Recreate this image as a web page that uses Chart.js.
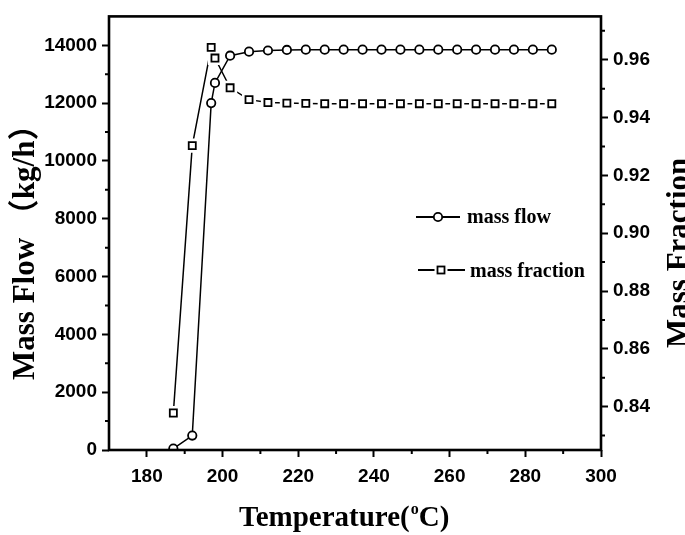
<!DOCTYPE html>
<html>
<head>
<meta charset="utf-8">
<script src="https://cdn.jsdelivr.net/npm/chart.js@4.4.0/dist/chart.umd.min.js"></script>
<style>
    html, body { margin: 0; padding: 0; background: #fff; }
    #wrap { width: 685px; height: 535px; }
</style>
</head>
<body>
<div id="wrap"><canvas id="chart" width="685" height="535"></canvas></div>
<script>
// Data
const temps = [187, 192, 197, 198, 202, 207, 212, 217, 222, 227, 232, 237, 242, 247, 252, 257, 262, 267, 272, 277, 282, 287];
const massFlow = [50, 500, 12000, 12700, 13640, 13780, 13820, 13840, 13850, 13850, 13850, 13850, 13850, 13850, 13850, 13850, 13850, 13850, 13850, 13850, 13850, 13850];
const massFraction = [0.8378, 0.9303, 0.9643, 0.9606, 0.9503, 0.9462, 0.9452, 0.9450, 0.9449, 0.9448, 0.9448, 0.9448, 0.9448, 0.9448, 0.9448, 0.9448, 0.9448, 0.9448, 0.9448, 0.9448, 0.9448, 0.9448];

// Tick labels
const xTicks = [180, 200, 220, 240, 260, 280, 300];
const flowTicks = [0, 2000, 4000, 6000, 8000, 10000, 12000, 14000];
const fracTicks = [0.84, 0.86, 0.88, 0.90, 0.92, 0.94, 0.96];
const xMinor = [190, 210, 230, 250, 270, 290];
const flowMinor = [1000, 3000, 5000, 7000, 9000, 11000, 13000];
const fracMinor = [0.83, 0.85, 0.87, 0.89, 0.91, 0.93, 0.95, 0.97];

const legendLabels = ['mass flow', 'mass fraction'];

const tickFont = { family: 'Liberation Sans', size: 19, weight: 'bold' };
const serif = '"Liberation Serif", "Noto Sans CJK SC", serif';

function pts(ys) {
    return temps.map((t, i) => ({ x: t, y: ys[i] }));
}

function tickGrid() {
    return {
        drawOnChartArea: false,
        drawTicks: true,
        tickLength: 7,
        tickWidth: 2,
        tickColor: '#000'
    };
}

// Frame, minor ticks, titles and legend
const decorPlugin = {
    id: 'decor',
    afterDraw(chart) {
        const { ctx, chartArea: a, scales } = chart;
        ctx.save();
        ctx.strokeStyle = '#000';
        ctx.fillStyle = '#000';

        ctx.lineWidth = 2.6;
        ctx.strokeRect(a.left, a.top, a.right - a.left, a.bottom - a.top);

        ctx.lineWidth = 2;
        ctx.beginPath();
        xMinor.forEach(v => {
            const px = scales.x.getPixelForValue(v);
            ctx.moveTo(px, a.bottom);
            ctx.lineTo(px, a.bottom + 4);
        });
        flowMinor.forEach(v => {
            const py = scales.y.getPixelForValue(v);
            ctx.moveTo(a.left, py);
            ctx.lineTo(a.left - 4, py);
        });
        fracMinor.forEach(v => {
            const py = scales.y1.getPixelForValue(v);
            ctx.moveTo(a.right, py);
            ctx.lineTo(a.right + 4, py);
        });
        ctx.stroke();

        // x title with superscript o
        ctx.textBaseline = 'alphabetic';
        ctx.textAlign = 'left';
        ctx.font = 'bold 29px ' + serif;
        let x = 239;
        const base = 526;
        ctx.fillText('Temperature(', x, base);
        x += ctx.measureText('Temperature(').width;
        ctx.font = 'bold 16px ' + serif;
        ctx.fillText('o', x + 1, base - 12);
        x += ctx.measureText('o').width + 1;
        ctx.font = 'bold 29px ' + serif;
        ctx.fillText('C)', x, base);

        // left title
        ctx.save();
        ctx.translate(34, 380);
        ctx.rotate(-Math.PI / 2);
        ctx.font = 'bold 31px ' + serif;
        ctx.fillText('Mass Flow （kg/h）', 0, 0);
        ctx.restore();

        // right title
        ctx.save();
        ctx.translate(688, 348);
        ctx.rotate(-Math.PI / 2);
        ctx.font = 'bold 31px ' + serif;
        ctx.fillText('Mass Fraction', 0, 0);
        ctx.restore();

        // legend
        ctx.lineWidth = 1.8;
        ctx.beginPath();
        ctx.moveTo(416, 217);
        ctx.lineTo(460, 217);
        ctx.stroke();
        ctx.beginPath();
        ctx.arc(438, 217, 4.2, 0, Math.PI * 2);
        ctx.fillStyle = '#fff';
        ctx.fill();
        ctx.stroke();

        ctx.beginPath();
        ctx.moveTo(418, 270);
        ctx.lineTo(434.5, 270);
        ctx.moveTo(447.5, 270);
        ctx.lineTo(465, 270);
        ctx.stroke();
        ctx.fillRect(437.5, 266.5, 7, 7);
        ctx.strokeRect(437.5, 266.5, 7, 7);

        ctx.fillStyle = '#000';
        ctx.font = 'bold 20px ' + serif;
        ctx.fillText(legendLabels[0], 467, 223);
        ctx.fillText(legendLabels[1], 470, 277);
        ctx.restore();
    }
};

const ctx = document.getElementById('chart').getContext('2d');
const chart = new Chart(ctx, {
    type: 'scatter',
    data: {
        datasets: [{
            label: legendLabels[0],
            data: pts(massFlow),
            yAxisID: 'y',
            showLine: true,
            borderColor: '#000',
            borderWidth: 1.5,
            pointStyle: 'circle',
            pointRadius: 4.2,
            pointBorderWidth: 1.8,
            pointBorderColor: '#000',
            pointBackgroundColor: '#fff',
            order: 1
        }, {
            // square markers
            label: legendLabels[1],
            data: pts(massFraction),
            yAxisID: 'y1',
            showLine: false,
            pointStyle: 'rect',
            pointRadius: 5,
            pointBorderWidth: 1.8,
            pointBorderColor: '#000',
            pointBackgroundColor: '#fff',
            order: 2
        }, {
            // white gap around squares
            label: 'gap',
            data: pts(massFraction),
            yAxisID: 'y1',
            showLine: false,
            pointStyle: 'rect',
            pointRadius: 10,
            pointBorderWidth: 0,
            pointBackgroundColor: '#fff',
            order: 3
        }, {
            label: 'fraction line',
            data: pts(massFraction),
            yAxisID: 'y1',
            showLine: true,
            borderColor: '#000',
            borderWidth: 1.5,
            pointRadius: 0,
            order: 4
        }]
    },
    options: {
        responsive: false,
        animation: false,
        layout: { padding: { top: 14, left: 0, right: 0, bottom: 0 } },
        plugins: {
            legend: { display: false },
            tooltip: { enabled: false }
        },
        elements: { point: { hoverRadius: 4 } },
        scales: {
            x: {
                type: 'linear',
                position: 'bottom',
                min: 170,
                max: 300,
                afterBuildTicks: s => { s.ticks = xTicks.map(v => ({ value: v })); },
                afterFit: s => { s.height = 85; },
                grid: tickGrid(),
                border: { display: false },
                ticks: { font: tickFont, color: '#000', padding: 8, maxRotation: 0 }
            },
            y: {
                type: 'linear',
                position: 'left',
                min: 0,
                max: 15000,
                afterBuildTicks: s => { s.ticks = flowTicks.map(v => ({ value: v })); },
                afterFit: s => { s.width = 109; },
                grid: tickGrid(),
                border: { display: false },
                ticks: { font: tickFont, color: '#000', padding: 5, callback: v => String(v) }
            },
            y1: {
                type: 'linear',
                position: 'right',
                min: 0.825,
                max: 0.975,
                afterBuildTicks: s => { s.ticks = fracTicks.map(v => ({ value: v })); },
                afterFit: s => { s.width = 84; },
                grid: tickGrid(),
                border: { display: false },
                ticks: { font: tickFont, color: '#000', padding: 5, callback: v => v.toFixed(2) }
            }
        }
    },
    plugins: [decorPlugin]
});
</script>
</body>
</html>
